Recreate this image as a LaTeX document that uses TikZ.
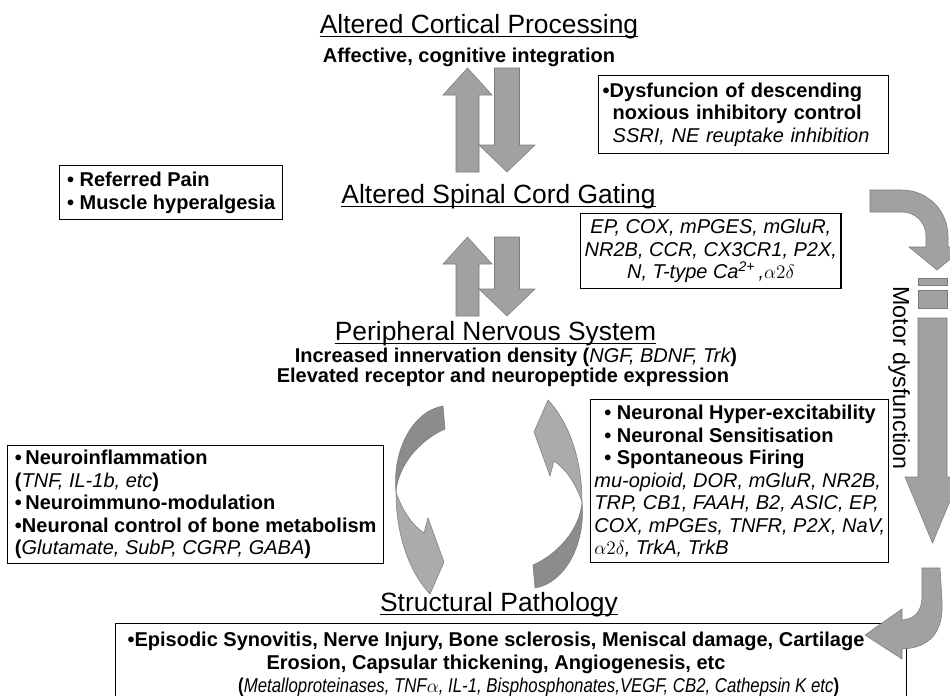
\documentclass[tikz,border=0pt]{standalone}
\usepackage{fontspec}
\setmainfont{Liberation Sans}
\newfontfamily\narrowsans[FakeStretch=0.84]{Liberation Sans}

\begin{document}
\begin{tikzpicture}[x=0.75pt, y=-0.75pt,
	heading/.style={font=\fontsize{19.8}{22}\selectfont, inner sep=0pt, anchor=base},
	subline/.style={font=\bfseries\fontsize{15}{17}\selectfont, inner sep=0pt, anchor=base},
	infobox/.style={draw, line width=1.1pt, inner xsep=3pt, inner ysep=0pt, font=\fontsize{15}{16.9}\selectfont, anchor=north west},
	blockarrow/.style={fill=black!37, draw=black!52, line width=0.4pt}]
	\useasboundingbox (0,0) rectangle (950,696);
	% levels
	\node[heading] (cortical) at (479,33) {Altered Cortical Processing};
	\node[subline] (affect) at (469,62) {Affective, cognitive integration};
	\node[heading] (spinal) at (498.5,203) {Altered Spinal Cord Gating};
	\node[heading] (pns) at (495.5,340) {Peripheral Nervous System};
	\node[subline] (innerv) at (516,362) {Increased innervation density ({\mdseries\itshape NGF, BDNF, Trk})};
	\node[subline] (elev) at (503,382) {Elevated receptor and neuropeptide expression};
	\node[heading] (structural) at (499,611) {Structural Pathology};
	\foreach \n in {cortical,spinal,pns,structural}
		\draw[line width=1pt] ([yshift=-2.7pt]\n.base west) -- ([yshift=-2.7pt]\n.base east);
	% boxes
	\node[infobox, minimum width=217.5pt, minimum height=58.5pt, text width=211.5pt, align=left] (dnic) at (598,75) {\textbf{\textbullet Dysfuncion of descending}\\ \hspace*{7.5pt}\textbf{noxious inhibitory control}\\ \hspace*{7.5pt}\textit{SSRI, NE reuptake inhibition}};
	\node[infobox, minimum width=167.25pt, minimum height=40.5pt, align=left] (referred) at (59,165) {\textbf{\textbullet\ Referred Pain}\\ \textbf{\textbullet\ Muscle hyperalgesia}};
	\node[infobox, minimum width=195pt, minimum height=56.25pt, align=center, font=\itshape\fontsize{15}{16.9}\selectfont] (receptors) at (580,213) {EP, COX, mPGES, mGluR,\\ NR2B, CCR, CX3CR1, P2X,\\ N, T-type Ca\textsuperscript{2+}\,,$\alpha2\delta$};
	\node[infobox, inner xsep=2.5pt, minimum width=223.5pt, minimum height=122.25pt, align=left] (neuronal) at (590,399) {\hspace*{7.5pt}\textbf{\textbullet\ Neuronal Hyper-excitability}\\ \hspace*{7.5pt}\textbf{\textbullet\ Neuronal Sensitisation}\\ \hspace*{7.5pt}\textbf{\textbullet\ Spontaneous Firing}\\ \textit{mu-opioid, DOR, mGluR, NR2B,}\\ \textit{TRP, CB1, FAAH, B2, ASIC, EP,}\\ \textit{COX, mPGEs, TNFR, P2X, NaV,}\\ $\alpha2\delta$\textit{, TrkA, TrkB}};
	\node[infobox, minimum width=282pt, minimum height=88.5pt, align=left] (inflam) at (7,445) {\textbf{\textbullet\,Neuroinflammation}\\ \textbf{(}\textit{TNF, IL-1b, etc}\textbf{)}\\ \textbf{\textbullet\,Neuroimmuno-modulation}\\ \textbf{\textbullet Neuronal control of bone metabolism}\\ \textbf{(}\textit{Glutamate, SubP, CGRP, GABA}\textbf{)}};
	\node[infobox, minimum width=593.25pt, minimum height=60pt] (pathbox) at (115,623) {};
	\node[align=center, inner sep=0pt, font=\fontsize{15}{17.25}\selectfont] (pathtext) at (496,664) {\textbf{\textbullet Episodic Synovitis, Nerve Injury, Bone sclerosis, Meniscal damage, Cartilage}\\ \textbf{Erosion, Capsular thickening, Angiogenesis, etc}\\ \hspace*{64pt}{\narrowsans\textbf{(}\textit{Metalloproteinases, TNF$\alpha$, IL-1, Bisphosphonates,VEGF, CB2, Cathepsin K etc}\textbf{)}}};
	% up/down arrows between levels
	\foreach \ya/\yb in {68/172, 237/316} {
		\draw[blockarrow] (467.5,\ya) -- (492,\ya+27) -- (479,\ya+27) -- (479,\yb) -- (456,\yb) -- (456,\ya+27) -- (443,\ya+27) -- cycle;
		\draw[blockarrow] (494.5,\ya) -- (519.5,\ya) -- (519.5,\yb-27) -- (535,\yb-27) -- (507,\yb) -- (479,\yb-27) -- (494.5,\yb-27) -- cycle;
	}
	% twisted loop arrows
	\foreach \ang in {0,180} {
		\begin{scope}[rotate around={\ang:(489,497)}]
			\draw[blockarrow, fill=black!45] (443,406) -- (445,429) .. controls (420,440) and (398,465) .. (396,492) .. controls (392,450) and (413,411) .. (443,406) -- cycle;
			\draw[blockarrow, fill=black!33] (396,492) .. controls (402,510) and (412,525) .. (424,533) -- (428,518) -- (444,562) -- (430,594) .. controls (412,575) and (396,540) .. (396,492) -- cycle;
		\end{scope}
	}
	% motor dysfunction
	\draw[blockarrow] (870,190) -- (902,190) .. controls (927.4,190) and (948,210.6) .. (948,236) -- (948,247) -- (965,247) -- (937,270) -- (909,247) -- (926,247) -- (926,236) .. controls (926,222.7) and (915.3,212) .. (902,212) -- (870,212) -- cycle;
	\draw[blockarrow] (918,278) rectangle (947,285);
	\draw[blockarrow] (918,290) rectangle (947,308);
	\draw[blockarrow] (918,318) -- (947,318) -- (947,477) -- (960,477) -- (932.5,543) -- (905,477) -- (918,477) -- cycle;
	\node[rotate=-90, inner sep=0pt, font=\fontsize{17.4}{20}\selectfont] (motor) at (899,378) {Motor dysfunction};
	\draw[blockarrow] (922,568) -- (940,568) -- (942,600) .. controls (944,632) and (930,648) .. (902,649) -- (902,659) -- (865,635) -- (902,609) -- (902,620) .. controls (916,619) and (922,610) .. (922,596) -- cycle;
\end{tikzpicture}
\end{document}
